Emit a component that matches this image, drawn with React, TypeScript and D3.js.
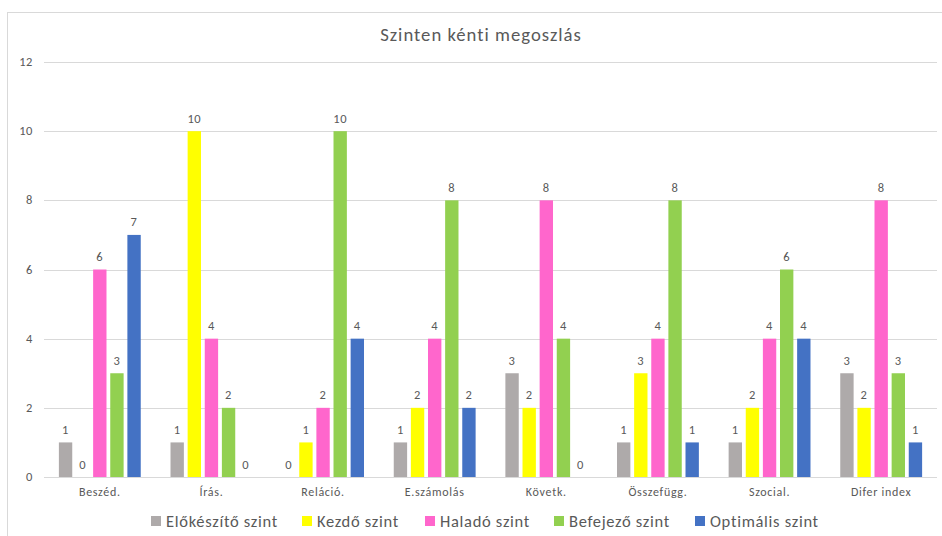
import React from "react";
import * as d3 from "d3";

const categories = ["Beszéd.", "Írás.", "Reláció.", "E.számolás", "Követk.", "Összefügg.", "Szocial.", "Difer index"];
const seriesNames = ["Előkészítő szint", "Kezdő szint", "Haladó szint", "Befejező szint", "Optimális szint"];
const elokeszito = [1, 1, 0, 1, 3, 1, 1, 3];
const kezdo = [0, 10, 1, 2, 2, 3, 2, 2];
const halado = [6, 4, 2, 4, 8, 4, 4, 8];
const befejezo = [3, 2, 10, 8, 4, 8, 6, 3];
const optimalis = [7, 0, 4, 2, 0, 1, 4, 1];
const yTicks = [0, 2, 4, 6, 8, 10, 12];
const colors = ["#AEAAAA", "#FFFF00", "#FF66CC", "#92D050", "#4472C4"];
const title = "Szinten kénti megoszlás";

const seriesValues = [elokeszito, kezdo, halado, befejezo, optimalis];

const W = 942;
const H = 536;
const left = 44;
const right = 937;
const top = 62;
const bottom = 477;
const font = "Calibri, Carlito, Lato, sans-serif";
const textColor = "#595959";

export default function App() {
  const x0 = d3.scaleBand<string>().domain(categories).range([left, right]).padding(0);
  const bw = x0.bandwidth();
  const x1 = d3
    .scaleBand<string>()
    .domain(seriesNames)
    .range([13, bw - 13])
    .paddingInner(0.22)
    .paddingOuter(0.11);
  const y = d3.scaleLinear().domain([0, 12]).range([bottom, top]);

  const legendX = [151, 302, 425, 554, 695];

  return (
    <svg width={W} height={H} style={{ position: "absolute", left: 0, top: 0, background: "#fff" }}>
      <rect x={7.5} y={12.5} width={W} height={H} fill="#fff" stroke="#D9D9D9" strokeWidth={1} />
      <text x={481} y={41} textAnchor="middle" fontFamily={font} fontSize={18.7} letterSpacing={1} fill={textColor}>
        {title}
      </text>
      {yTicks.map((t) => (
        <g key={t}>
          <line x1={left} x2={right} y1={Math.round(y(t)) + 0.5} y2={Math.round(y(t)) + 0.5} stroke="#D9D9D9" strokeWidth={1} />
          <text x={33} y={y(t) + 4} textAnchor="end" fontFamily={font} fontSize={12.5} letterSpacing={0.6} fill={textColor}>
            {t}
          </text>
        </g>
      ))}
      {categories.map((c, ci) => (
        <g key={c}>
          {seriesNames.map((s, si) => {
            const v = seriesValues[si][ci];
            const bx = (x0(c) as number) + (x1(s) as number);
            const by = y(v);
            return (
              <g key={s}>
                {v > 0 && (
                  <rect x={bx} y={by} width={x1.bandwidth()} height={bottom - by} fill={colors[si]} />
                )}
                <text
                  x={bx + x1.bandwidth() / 2}
                  y={by - 8.5}
                  textAnchor="middle"
                  fontFamily={font}
                  fontSize={12.5}
                  letterSpacing={0.6}
                  fill={textColor}
                >
                  {v}
                </text>
              </g>
            );
          })}
          <text
            x={(x0(c) as number) + bw / 2}
            y={496}
            textAnchor="middle"
            fontFamily={font}
            fontSize={12}
            letterSpacing={0.7}
            fill={textColor}
          >
            {c}
          </text>
        </g>
      ))}
      {seriesNames.map((s, si) => (
        <g key={s}>
          <rect x={legendX[si]} y={516} width={10} height={10} fill={colors[si]} />
          <text x={legendX[si] + 15} y={526.5} fontFamily={font} fontSize={16.5} letterSpacing={0.7} fill={textColor}>
            {s}
          </text>
        </g>
      ))}
    </svg>
  );
}
